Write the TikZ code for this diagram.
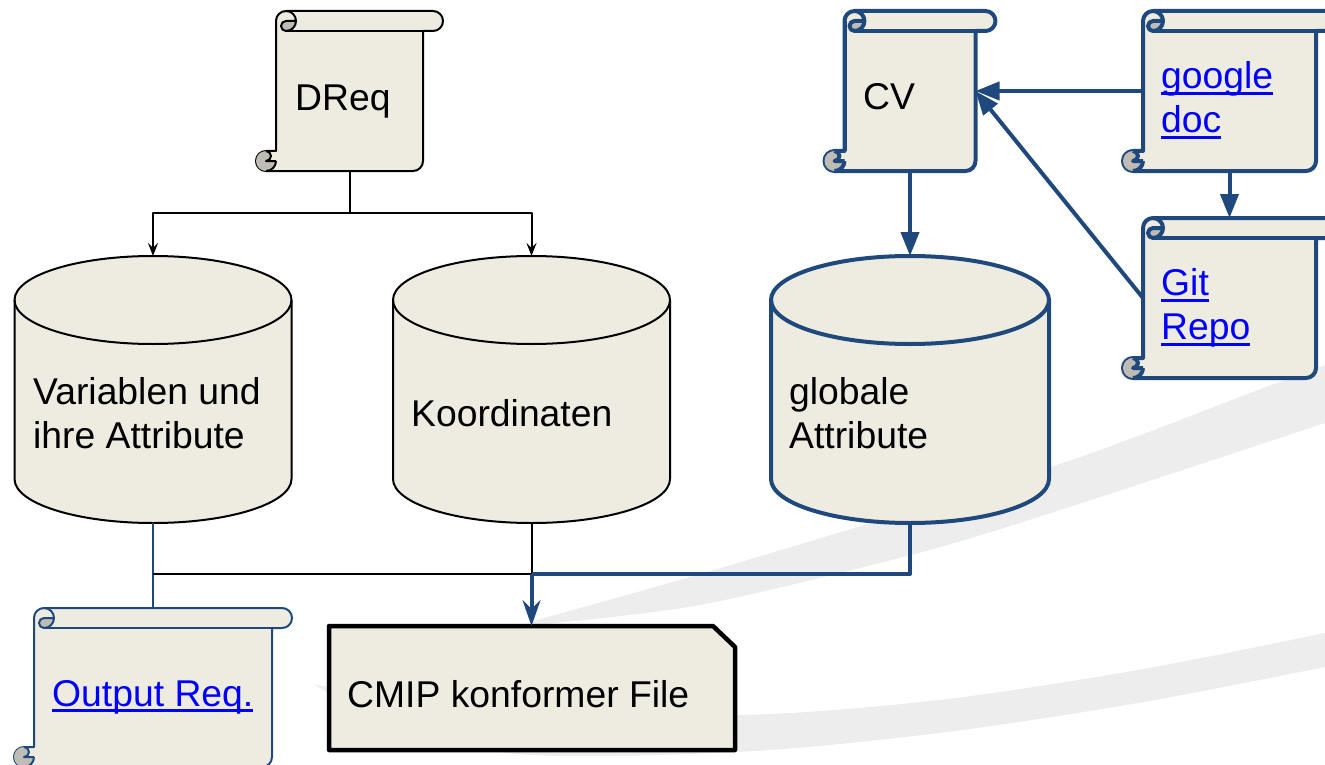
\documentclass[tikz,border=0pt]{standalone}
\usepackage{fontspec}
\setmainfont{Liberation Sans}
\usetikzlibrary{arrows.meta}

\definecolor{paper}{HTML}{EEECE1}
\definecolor{curl}{HTML}{BEBCB4}
\definecolor{darkblue}{HTML}{1F497D}
\definecolor{swoosh}{HTML}{EDEDED}
\definecolor{linkblue}{HTML}{0000FF}

\newsavebox{\lnkbox}
\newcommand{\lnk}[1]{\sbox{\lnkbox}{#1}\rlap{\rule[-6pt]{\wd\lnkbox}{3pt}}\usebox{\lnkbox}}

% name, left, top, width, height, style
\newcommand{\scrollshape}[6]{
    \begin{scope}[shift={(#2,-#3)}]
        \draw[#6, fill=paper] (0,-10) arc[start angle=180, end angle=90, radius=10] -- (#4+10,0)
            arc[start angle=90, end angle=-90, radius=10] -- (#4,-20)
            -- (#4,-#5+10) arc[start angle=0, end angle=-90, radius=10] -- (-10,-#5)
            arc[start angle=270, end angle=90, radius=10] -- (0,-#5+20) -- cycle;
        \fill[curl] (10,-10) -- (20,-10) arc[start angle=0, end angle=-90, radius=10]
            arc[start angle=270, end angle=180, radius=5] arc[start angle=180, end angle=90, radius=5] -- cycle;
        \fill[curl] (-10,-#5+20) arc[start angle=90, end angle=270, radius=10]
            arc[start angle=-90, end angle=0, radius=10] -- (-10,-#5+10)
            arc[start angle=-90, end angle=90, radius=5] -- cycle;
        \draw[#6] (10,0) arc[start angle=90, end angle=-90, radius=10]
            arc[start angle=270, end angle=90, radius=5] -- (20,-10);
        \draw[#6] (10,-20) -- (#4+10,-20);
        \draw[#6] (-10,-#5+20) arc[start angle=90, end angle=-90, radius=5] -- (0,-#5+10);
        \draw[#6] (-10,-#5) arc[start angle=-90, end angle=0, radius=10];
        \draw[#6] (0,-10) -- (0,-#5+20);
        \node[shapebox, minimum width=#4, minimum height=#5] (#1) at (#4/2,-#5/2) {};
    \end{scope}
}

% name, left, top, width, height, style
\newcommand{\cylshape}[6]{
    \begin{scope}[shift={(#2,-#3)}]
        \draw[#6, fill=paper] (0,-44) arc[x radius=#4/2, y radius=44, start angle=180, end angle=0]
            -- (#4,-#5+44) arc[x radius=#4/2, y radius=44, start angle=0, end angle=-180] -- cycle;
        \draw[#6] (0,-44) arc[x radius=#4/2, y radius=44, start angle=180, end angle=360];
        \node[shapebox, minimum width=#4, minimum height=#5] (#1) at (#4/2,-#5/2) {};
    \end{scope}
}

\begin{document}
\begin{tikzpicture}[
        x = 1pt,
        y = 1pt,
        line join = round,
        shapebox/.style = {inner sep=0pt, outer sep=0pt},
        blackthin/.style = {black, line width=2pt},
        bluethin/.style = {darkblue, line width=2pt},
        bluethick/.style = {darkblue, line width=4pt},
        lbl/.style = {anchor=west, align=left, inner sep=0pt, font=\fontsize{37.3}{44}\selectfont},
        blacktip/.style = {-{Stealth[length=13pt, width=10pt, inset=5pt]}},
        bluetip/.style = {-{Triangle[length=24pt, width=18pt]}},
        filetip/.style = {-{Stealth[length=26pt, width=18pt, inset=9pt]}}
    ]
    \useasboundingbox (0,0) rectangle (1325,-765);

    % background
    \fill[swoosh] plot[smooth] coordinates {(533,-621) (724,-567) (1051,-467) (1258,-390) (1325,-365)}
        -- plot[smooth] coordinates {(1325,-423) (1051,-513) (911,-555) (700,-605) (533,-625)} -- cycle;
    \fill[swoosh] plot[smooth] coordinates {(315,-685) (500,-705) (736,-715) (939,-700) (1138,-670) (1325,-633)}
        -- plot[smooth] coordinates {(1325,-667) (1138,-703) (939,-733) (736,-752) (500,-752) (330,-694)} -- cycle;

    \scrollshape{dreq}{276}{11}{147}{160}{blackthin}
    \scrollshape{cv}{844.5}{11}{131}{160}{bluethick}
    \scrollshape{google}{1143}{11}{173}{160}{bluethick}
    \scrollshape{git}{1143}{218}{173}{160}{bluethick}
    \scrollshape{outreq}{34}{608}{238}{159}{bluethin}

    \cylshape{var}{14.5}{256}{277}{267}{blackthin}
    \cylshape{koord}{393}{256}{277}{267}{blackthin}
    \cylshape{glob}{771}{256}{278}{267}{bluethick}

    \draw[black, line width=4.5pt, fill=paper] (329,-626) -- (713,-626) -- (735,-647) -- (735,-750) -- (329,-750) -- cycle;
    \node[shapebox, minimum width=406, minimum height=124] (file) at (532,-688) {};

    \node[lbl] (dreqtxt) at (295,-102) {DReq};
    \node[lbl] (cvtxt) at (863,-97) {CV};
    \node[lbl, text=linkblue] (googletxt) at (1161,-100) {\lnk{google}\\\lnk{doc}};
    \node[lbl, text=linkblue] (gittxt) at (1161,-308) {\lnk{Git}\\\lnk{Repo}};
    \node[lbl, text=linkblue] (outreqtxt) at (52,-697) {\lnk{Output Req.}};
    \node[lbl] (vartxt) at (33,-413) {Variablen und\\ihre Attribute};
    \node[lbl] (koordtxt) at (411,-413) {Koordinaten};
    \node[lbl] (globtxt) at (789,-413) {globale\\Attribute};
    \node[lbl] (filetxt) at (347,-694) {CMIP konformer File};

    \coordinate (split) at (349.5,-213);
    \coordinate (merge) at (531.5,-574);
    \coordinate (left) at (153,-574);

    \draw[blackthin] (dreq.south) -- (split);
    \draw[blackthin, blacktip] (split) -| (var.north);
    \draw[blackthin, blacktip] (split) -| (koord.north);

    \draw[bluethick, bluetip] (cv.south) -- (glob.north);
    \draw[bluethick, bluetip] (google.west) -- (cv.east);
    \draw[bluethick, bluetip] (git.west) -- (cv.east);
    \draw[bluethick, bluetip] (google.south) -- (git.north);

    \draw[bluethin] (var.south) -- (outreq.north);
    \draw[blackthin] (left) -- (merge);
    \draw[blackthin] (koord.south) -- (merge);
    \draw[bluethick] (glob.south) |- (merge);
    \draw[bluethick, filetip] (merge) -- (file.north -| merge);
\end{tikzpicture}
\end{document}
